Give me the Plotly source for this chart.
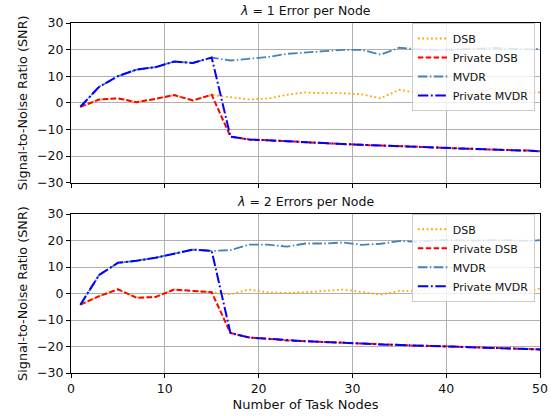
import plotly.graph_objects as go

nodes = [1, 3, 5, 7, 9, 11, 13, 15, 17, 19, 21, 23, 25, 27, 29, 31, 33, 35, 37, 39, 41, 43, 45, 47, 49, 50]

# lambda = 1
dsb_1 = [-1.5, 1.2, 1.7, 0.2, 1.5, 2.9, 0.9, 3.0,
         2.1, 1.25, 1.6, 3.0, 3.9, 3.6, 3.6, 3.2, 1.7, 4.9, 3.6, 3.2, 2.5, 3.4, 5.5, 4.4, 3.8, 3.9]
pdsb_1 = [-1.5, 1.2, 1.7, 0.2, 1.5, 2.9, 0.9, 3.0,
          -12.7, -13.8, -14.1, -14.5, -14.9, -15.3, -15.5, -15.8, -16.0, -16.3, -16.5, -16.8, -17.1, -17.4, -17.6, -17.8, -18.0, -18.2]
mvdr_1 = [-1.5, 6.0, 10.0, 12.5, 13.4, 15.5, 15.0, 17.0,
          15.9, 16.6, 17.2, 18.4, 19.0, 19.4, 19.9, 19.9, 18.1, 20.7, 20.1, 19.9, 20.0, 20.2, 20.6, 20.3, 20.1, 20.3]
pmvdr_1 = [-1.5, 6.0, 10.0, 12.5, 13.4, 15.5, 15.0, 17.0,
           -12.7, -13.8, -14.1, -14.5, -14.9, -15.3, -15.5, -15.8, -16.0, -16.3, -16.5, -16.8, -17.1, -17.4, -17.6, -17.8, -18.0, -18.2]

# lambda = 2
dsb_2 = [-4.2, -1.0, 1.6, -1.6, -1.3, 1.5, 1.0, 0.5,
         -0.3, 1.5, 0.4, 0.25, 0.5, 1.0, 1.5, 0.6, -0.4, 1.0, 1.0, 2.3, 2.8, 2.6, 2.1, 1.6, 1.1, 1.9]
pdsb_2 = [-4.2, -1.0, 1.6, -1.6, -1.3, 1.5, 1.0, 0.5,
          -14.9, -16.6, -17.1, -17.7, -18.0, -18.3, -18.7, -18.9, -19.2, -19.4, -19.7, -19.8, -20.0, -20.3, -20.6, -20.7, -20.9, -21.1]
mvdr_2 = [-4.2, 7.0, 11.6, 12.4, 13.5, 15.1, 16.6, 16.1,
          16.4, 18.5, 18.5, 17.7, 18.9, 18.9, 19.3, 18.4, 18.8, 19.8, 19.5, 20.2, 20.1, 20.0, 20.2, 20.0, 19.9, 20.2]
pmvdr_2 = [-4.2, 7.0, 11.6, 12.4, 13.5, 15.1, 16.6, 16.1,
           -14.9, -16.6, -17.1, -17.7, -18.0, -18.3, -18.7, -18.9, -19.2, -19.4, -19.7, -19.8, -20.0, -20.3, -20.6, -20.7, -20.9, -21.1]

titles = ["<i>λ</i> = 1 Error per Node", "<i>λ</i> = 2 Errors per Node"]
x_ticks = [0, 10, 20, 30, 40, 50]
y_ticks = [-30, -20, -10, 0, 10, 20, 30]

styles = [
    ("DSB", "orange", "1.8px,2.6px", 1.8),
    ("Private DSB", "red", "5.5px,2.4px", 2.0),
    ("MVDR", "steelblue", "9.6px,2.4px,1.5px,2.4px", 1.8),
    ("Private MVDR", "blue", "10.5px,2.6px,1.8px,2.6px", 2.0),
]

FONT = "DejaVu Sans, Verdana, sans-serif"
TXT = "#111"
fig = go.Figure()

panels = [
    ((dsb_1, pdsb_1, mvdr_1, pmvdr_1), "x", "y", "legend"),
    ((dsb_2, pdsb_2, mvdr_2, pmvdr_2), "x2", "y2", "legend2"),
]
for series, xa, ya, lg in panels:
    for vals, (name, color, dash, w) in zip(series, styles):
        fig.add_trace(go.Scatter(
            x=nodes, y=vals, mode="lines", name=name,
            line=dict(color=color, dash=dash, width=w),
            xaxis=xa, yaxis=ya, legend=lg,
        ))

axis_common = dict(
    range=[0, 50], showline=True, linecolor="black", linewidth=1, mirror=True,
    ticks="outside", ticklen=4, tickcolor="black", tickwidth=1,
    showgrid=True, gridcolor="#b0b0b0", gridwidth=1, zeroline=False,
    tickfont=dict(size=12.5, color=TXT), tickvals=x_ticks, automargin=False,
)
yaxis_common = dict(
    range=[-30, 30], showline=True, linecolor="black", linewidth=1, mirror=True,
    ticks="outside", ticklen=4, tickcolor="black", tickwidth=1,
    showgrid=True, gridcolor="#b0b0b0", gridwidth=1, zeroline=False,
    tickfont=dict(size=12.5, color=TXT), tickvals=y_ticks, automargin=False,
    title=dict(text="Signal-to-Noise Ratio (SNR)", font=dict(size=12.8, color=TXT), standoff=6),
)

top_dom = [0.544, 1.0]
bot_dom = [0.0, 0.454]

legend_common = dict(
    bgcolor="rgba(255,255,255,0.8)", bordercolor="#cccccc", borderwidth=1,
    font=dict(size=11, color=TXT, family=FONT), xanchor="right", yanchor="top",
    tracegroupgap=0, itemwidth=30,
)

fig.update_layout(
    width=556, height=416,
    margin=dict(l=71, r=16, t=23, b=43, autoexpand=False),
    paper_bgcolor="white", plot_bgcolor="white",
    font=dict(family=FONT, color=TXT),
    xaxis=dict(axis_common, domain=[0, 1], anchor="y", showticklabels=False),
    yaxis=dict(yaxis_common, domain=top_dom, anchor="x"),
    xaxis2=dict(axis_common, domain=[0, 1], anchor="y2",
                title=dict(text="Number of Task Nodes", font=dict(size=13, color=TXT), standoff=4)),
    yaxis2=dict(yaxis_common, domain=bot_dom, anchor="x2"),
    legend=dict(legend_common, x=0.989, y=1.0),
    legend2=dict(legend_common, x=0.989, y=0.455),
    annotations=[
        dict(text=titles[0], x=0.5, y=top_dom[1], xref="paper", yref="paper",
             xanchor="center", yanchor="bottom", yshift=3, showarrow=False,
             font=dict(size=12.5, color=TXT)),
        dict(text=titles[1], x=0.5, y=bot_dom[1], xref="paper", yref="paper",
             xanchor="center", yanchor="bottom", yshift=3, showarrow=False,
             font=dict(size=12.5, color=TXT)),
    ],
    showlegend=True,
)

fig.write_html("out.html", config={"displayModeBar": False},
               post_script="document.body.style.margin='0';document.body.style.overflow='hidden';")
